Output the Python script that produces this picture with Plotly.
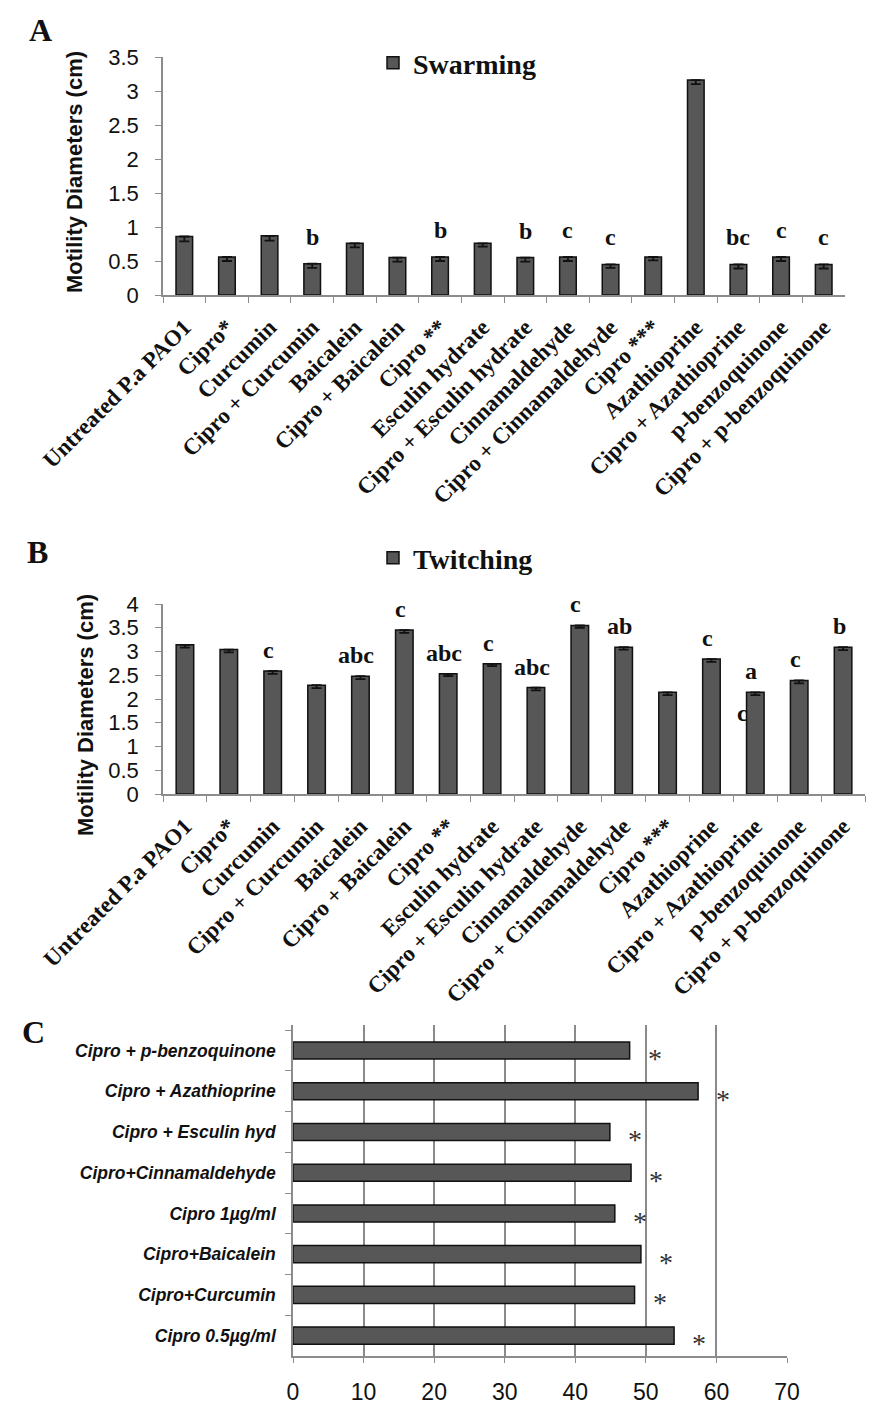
import plotly.graph_objects as go

W, H = 883, 1416
OFF = 8  # page body margin of the browser

# ---------------- data ----------------
categories = ["Untreated P.a PAO1", "Cipro*", "Curcumin", "Cipro + Curcumin", "Baicalein",
              "Cipro + Baicalein", "Cipro **", "Esculin hydrate", "Cipro + Esculin hydrate",
              "Cinnamaldehyde", "Cipro + Cinnamaldehyde", "Cipro ***", "Azathioprine",
              "Cipro + Azathioprine", "p-benzoquinone", "Cipro + p-benzoquinone"]

swarming = [0.86, 0.56, 0.87, 0.46, 0.76, 0.55, 0.56, 0.76, 0.55, 0.56, 0.45, 0.56, 3.16, 0.45, 0.56, 0.45]
swarming_err = [0.07, 0.06, 0.07, 0.06, 0.06, 0.06, 0.06, 0.05, 0.06, 0.06, 0.05, 0.05, 0.06, 0.06, 0.06, 0.06]
swarming_letters = ["", "", "", "b", "", "", "b", "", "b", "c", "c", "", "", "bc", "c", "c"]

twitching = [3.14, 3.04, 2.59, 2.29, 2.48, 3.45, 2.53, 2.74, 2.24, 3.55, 3.09, 2.14, 2.84, 2.14, 2.39, 3.09]
twitching_err = [0.06, 0.06, 0.06, 0.06, 0.06, 0.06, 0.05, 0.05, 0.06, 0.05, 0.05, 0.06, 0.06, 0.06, 0.06, 0.06]
twitching_letters = ["", "", "c", "", "abc", "c", "abc", "c", "abc", "c", "ab", "", "c", "a", "c", "b"]
twitching_letters_low = ["", "", "", "", "", "", "", "", "", "", "", "", "", "c", "", ""]

c_categories = ["Cipro + p-benzoquinone", "Cipro + Azathioprine", "Cipro + Esculin hyd",
                "Cipro+Cinnamaldehyde", "Cipro 1\u00b5g/ml", "Cipro+Baicalein",
                "Cipro+Curcumin", "Cipro 0.5\u00b5g/ml"]
c_values = [47.7, 57.4, 44.9, 47.9, 45.6, 49.3, 48.4, 54.0]
c_marks = ["*"] * 8

y_ticks_A = [0, 0.5, 1, 1.5, 2, 2.5, 3, 3.5]
y_ticks_B = [0, 0.5, 1, 1.5, 2, 2.5, 3, 3.5, 4]
x_ticks_C = [0, 10, 20, 30, 40, 50, 60, 70]

# ---------------- style ----------------
BAR = "#575757"
AXIS = "#8c8c8c"
SERIF = "Liberation Serif, Times New Roman, serif"
SANS = "Liberation Sans Narrow, Liberation Sans, Arial, sans-serif"


def px_x(p):
    return (p - OFF) / W


def px_y(p):
    return 1 - (p - OFF) / H


fig = go.Figure()

# Panel A
fig.add_trace(go.Bar(
    x=categories, y=swarming, name="Swarming",
    marker=dict(color=BAR, line=dict(color="#111111", width=1.5)),
    error_y=dict(type="data", symmetric=False, array=[0] * len(swarming_err),
                 arrayminus=swarming_err, color="#111111", thickness=1.8, width=5),
    xaxis="x", yaxis="y", legend="legend", width=0.39,
))

# Panel B
fig.add_trace(go.Bar(
    x=categories, y=twitching, name="Twitching",
    marker=dict(color=BAR, line=dict(color="#111111", width=1.5)),
    error_y=dict(type="data", symmetric=False, array=[0] * len(twitching_err),
                 arrayminus=twitching_err, color="#111111", thickness=1.8, width=5),
    xaxis="x2", yaxis="y2", legend="legend2", width=0.40,
))

# Panel C
fig.add_trace(go.Bar(
    x=c_values, y=c_categories, orientation="h", showlegend=False,
    marker=dict(color=BAR, line=dict(color="#111111", width=1.5)),
    xaxis="x3", yaxis="y3", width=0.42,
))

cat_tick_font = dict(family=SERIF, size=23, color="#111111", weight="bold")
num_tick_font = dict(family=SANS, size=22, color="#111111")
legend_font = dict(family=SERIF, size=28, color="#111111", weight="bold")

fig.update_layout(
    width=W, height=H,
    margin=dict(l=0, r=0, t=0, b=0, autoexpand=False),
    paper_bgcolor="white", plot_bgcolor="white",
    bargap=0.6,
    showlegend=True,
    xaxis=dict(domain=[px_x(163), px_x(845)], anchor="y", type="category", automargin=False,
               showline=True, linecolor=AXIS, linewidth=1.5,
               ticks="outside", tickcolor=AXIS, ticklen=6, tickson="boundaries",
               tickangle=-45, tickfont=cat_tick_font, ticklabelstandoff=8, showgrid=False),
    yaxis=dict(domain=[px_y(295), px_y(57)], anchor="x", range=[0, 3.5], automargin=False,
               tickvals=y_ticks_A, ticktext=[f"{v:g}" for v in y_ticks_A],
               showline=True, linecolor=AXIS, linewidth=1.5,
               ticks="outside", tickcolor=AXIS, ticklen=6, ticklabelstandoff=12,
               tickfont=num_tick_font, showgrid=False, zeroline=False),
    xaxis2=dict(domain=[px_x(163), px_x(865)], anchor="y2", type="category", automargin=False,
                showline=True, linecolor=AXIS, linewidth=1.5,
                ticks="outside", tickcolor=AXIS, ticklen=6, tickson="boundaries",
                tickangle=-45, tickfont=cat_tick_font, ticklabelstandoff=8, showgrid=False),
    yaxis2=dict(domain=[px_y(794), px_y(604)], anchor="x2", range=[0, 4], automargin=False,
                tickvals=y_ticks_B, ticktext=[f"{v:g}" for v in y_ticks_B],
                showline=True, linecolor=AXIS, linewidth=1.5,
                ticks="outside", tickcolor=AXIS, ticklen=6, ticklabelstandoff=12,
                tickfont=num_tick_font, showgrid=False, zeroline=False),
    xaxis3=dict(domain=[px_x(293), px_x(787)], anchor="y3", range=[0, 70], automargin=False,
                tickvals=x_ticks_C, showline=True, linecolor=AXIS, linewidth=1.5,
                ticks="outside", tickcolor=AXIS, ticklen=5,
                showgrid=True, gridcolor="#8a8a8a", gridwidth=1.6, zeroline=False,
                tickfont=dict(family=SANS, size=23, color="#111111"),
                ticklabelstandoff=10, layer="below traces"),
    yaxis3=dict(domain=[px_y(1356), px_y(1025)], anchor="x3", type="category", automargin=False,
                autorange="reversed", showline=True, linecolor=AXIS, linewidth=1.5,
                ticks="outside", tickcolor=AXIS, ticklen=6, tickson="boundaries",
                ticklabelstandoff=12,
                tickfont=dict(family=SANS, size=17.5, color="#111111", weight="bold", style="italic"),
                showgrid=False),
    legend=dict(x=px_x(373), y=px_y(63), xanchor="left", yanchor="middle",
                font=legend_font, bgcolor="rgba(0,0,0,0)", itemwidth=30),
    legend2=dict(x=px_x(373), y=px_y(558), xanchor="left", yanchor="middle",
                 font=legend_font, bgcolor="rgba(0,0,0,0)", itemwidth=30),
)

annotations = []
# Panel letters
for letter, xp, yp in [("A", 40, 30), ("B", 38, 552), ("C", 33, 1032)]:
    annotations.append(dict(text=letter, x=px_x(xp), y=px_y(yp), xref="paper", yref="paper",
                            xanchor="center", yanchor="middle", showarrow=False,
                            font=dict(family=SERIF, size=32, color="#111111", weight="bold")))
# y-axis titles
for xp, yp in [(75, 172), (85, 715)]:
    annotations.append(dict(text="Motility Diameters (cm)", x=px_x(xp), y=px_y(yp),
                            xref="paper", yref="paper", textangle=-90, showarrow=False,
                            xanchor="center", yanchor="middle",
                            font=dict(family="Liberation Sans, Arial, sans-serif", size=22,
                                      color="#111111", weight="bold")))
# significance letters A
for cat, val, lab in zip(categories, swarming, swarming_letters):
    if lab:
        annotations.append(dict(text=lab, x=cat, y=val, xref="x", yref="y", yanchor="bottom",
                                yshift=12, showarrow=False,
                                font=dict(family=SERIF, size=24, color="#111111", weight="bold")))
# significance letters B
for cat, val, lab in zip(categories, twitching, twitching_letters):
    if lab:
        annotations.append(dict(text=lab, x=cat, y=val, xref="x2", yref="y2", yanchor="bottom",
                                yshift=6, xshift=-4, showarrow=False,
                                font=dict(family=SERIF, size=24, color="#111111", weight="bold")))
for cat, val, lab in zip(categories, twitching, twitching_letters_low):
    if lab:
        annotations.append(dict(text=lab, x=cat, y=val, xref="x2", yref="y2", yanchor="middle",
                                yshift=-21, xshift=-13, showarrow=False,
                                font=dict(family=SERIF, size=24, color="#111111", weight="bold")))
# asterisks C
for cat, val, mark in zip(c_categories, c_values, c_marks):
    annotations.append(dict(text=mark, x=val, y=cat, xref="x3", yref="y3", xanchor="center",
                            xshift=25, yshift=-8, showarrow=False,
                            font=dict(family=SERIF, size=28, color="#333333")))
fig.update_layout(annotations=annotations)

fig.write_html("out.html")
